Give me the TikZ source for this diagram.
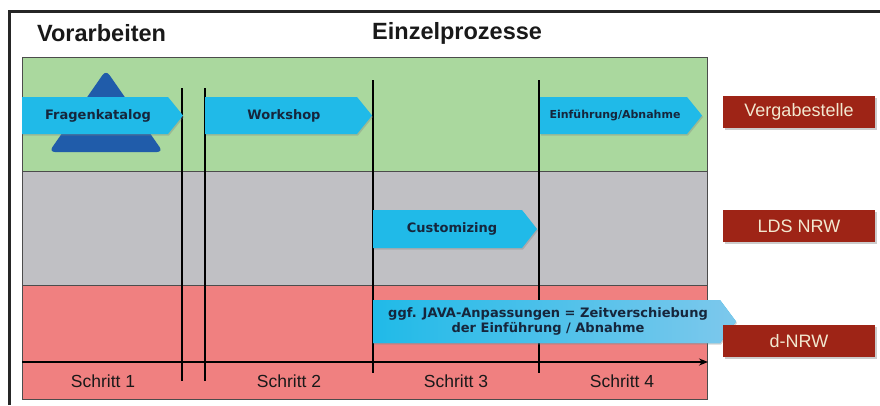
\documentclass[tikz,border=0pt]{standalone}
\usepackage{fontspec}
\setmainfont{Liberation Sans}
\newfontfamily\arrowfont{DejaVu Sans}
\usetikzlibrary{shadows,arrows.meta}
\definecolor{bandgreen}{RGB}{170,216,158}
\definecolor{bandgray}{RGB}{192,192,196}
\definecolor{bandred}{RGB}{240,128,128}
\definecolor{arrowcyan}{RGB}{32,186,232}
\definecolor{arrowlight}{RGB}{125,200,236}
\definecolor{deltablue}{RGB}{32,92,170}
\definecolor{labelred}{RGB}{158,36,22}
\definecolor{cream}{RGB}{242,232,208}
\definecolor{arrowtext}{RGB}{22,38,60}
\tikzset{
  band/.style={draw=black!70, line width=0.8pt},
  divider/.style={draw=black, line width=1.5pt},
  procarrow/.style={fill=arrowcyan, drop shadow={shadow xshift=1pt, shadow yshift=-1.5pt, opacity=0.35}},
  arrowlabel/.style={font=\arrowfont\bfseries\fontsize{13}{15}\selectfont, text=arrowtext, inner sep=0pt},
  roleb/.style={fill=labelred, minimum width=152pt, minimum height=32pt, inner sep=0pt,
    font=\fontsize{18}{20}\selectfont, text=cream,
    drop shadow={shadow xshift=2pt, shadow yshift=-2pt, opacity=0.4}},
  steplabel/.style={font=\fontsize{17.5}{19}\selectfont, text=black!90, inner sep=0pt},
  titlelabel/.style={font=\bfseries\fontsize{23.5}{27}\selectfont, text=black!90, inner sep=0pt, anchor=west}
}
\begin{document}
\begin{tikzpicture}[x=1pt,y=-1pt]
\useasboundingbox (0,0) rectangle (880,405);
\fill[white] (0,0) rectangle (880,405);
% outer frame
\draw[line width=3pt, black!85] (9,405) -- (9,11.5) -- (880,11.5);
% titles
\node[titlelabel] (vor) at (37,33) {Vorarbeiten};
\node[titlelabel] (einz) at (372,33) {Einzelprozesse};
% bands
\fill[bandgreen] (22,57) rectangle (707,171);
\fill[bandgray] (22,171) rectangle (707,285);
\fill[bandred] (22,285) rectangle (707,399);
\draw[band] (22,57) rectangle (707,399);
\draw[band] (22,171) -- (707,171);
\draw[band] (22,285) -- (707,285);
% delta triangle
\fill[deltablue, rounded corners=6pt] (106,70) -- (163,152) -- (49,152) -- cycle;
% vertical dividers
\draw[divider] (182,88) -- (182,381);
\draw[divider] (205,88) -- (205,381);
\draw[divider] (373,80) -- (373,373);
\draw[divider] (539,80) -- (539,373);
% time axis
\coordinate (axs) at (22,362);
\coordinate (axe) at (708,362);
\draw[line width=2.2pt, -{Stealth[length=9pt,width=7pt]}] (axs) -- (axe);
% process arrows
\path[procarrow] (22,97) -- (168,97) -- (183,115.5) -- (168,134) -- (22,134) -- cycle;
\node[arrowlabel] (frag) at (98,115.5) {Fragenkatalog};
\path[procarrow] (205,97) -- (357,97) -- (372,115.5) -- (357,134) -- (205,134) -- cycle;
\node[arrowlabel] (work) at (284,115.5) {Workshop};
\path[procarrow] (540,97) -- (687,97) -- (702,115.5) -- (687,134) -- (540,134) -- cycle;
\node[arrowlabel, font=\arrowfont\bfseries\fontsize{11}{13}\selectfont] (einf) at (615,115.5) {Einführung/Abnahme};
\path[procarrow] (373,210) -- (522,210) -- (537,229) -- (522,248) -- (373,248) -- cycle;
\node[arrowlabel] (cust) at (452,229) {Customizing};
\path[procarrow, left color=arrowcyan, right color=arrowlight] (373,300) -- (720,300) -- (736,321.5) -- (720,343) -- (373,343) -- cycle;
\node[arrowlabel, align=center, font=\arrowfont\bfseries\fontsize{13}{15.5}\selectfont] (java) at (548,321.5) {ggf. JAVA-Anpassungen = Zeitverschiebung\\der Einführung / Abnahme};
% role labels
\node[roleb] (verg) at (799,112) {Vergabestelle};
\node[roleb] (lds) at (799,226) {LDS NRW};
\node[roleb] (dnrw) at (799,341) {d-NRW};
% step labels
\node[steplabel] (s1) at (103,381) {Schritt 1};
\node[steplabel] (s2) at (289,381) {Schritt 2};
\node[steplabel] (s3) at (456,381) {Schritt 3};
\node[steplabel] (s4) at (622,381) {Schritt 4};
\end{tikzpicture}
\end{document}
